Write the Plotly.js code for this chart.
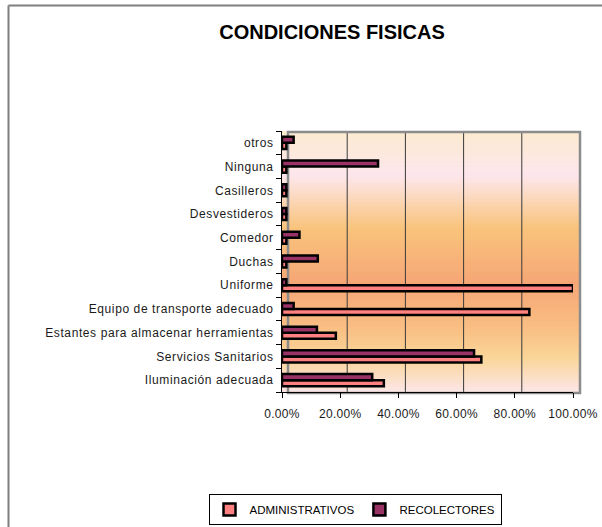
<!DOCTYPE html>
<html>
<head>
<meta charset="utf-8">
<script src="https://cdn.plot.ly/plotly-3.0.1.min.js"></script>
<style>
html,body{margin:0;padding:0;background:#fff;}
#chart{width:602px;height:527px;}
#chart .ytick text{letter-spacing:0.6px;}
#chart .xtick text{letter-spacing:0.3px;}
</style>
</head>
<body>
<div id="chart"></div>
<script>
// ---- data ----
var categories = [
  "Iluminación adecuada",
  "Servicios Sanitarios",
  "Estantes para almacenar herramientas",
  "Equipo de transporte adecuado",
  "Uniforme",
  "Duchas",
  "Comedor",
  "Desvestideros",
  "Casilleros",
  "Ninguna",
  "otros"
];
var administrativos = [0.35, 0.685, 0.185, 0.85, 1.00, 0.015, 0.015, 0.015, 0.015, 0.015, 0.015];
var recolectores    = [0.31, 0.66, 0.12, 0.04, 0.015, 0.123, 0.06, 0.015, 0.015, 0.33, 0.04];
var xTickVals = [0, 0.2, 0.4, 0.6, 0.8, 1.0];
var seriesNames = ["ADMINISTRATIVOS", "RECOLECTORES"];

// ---- layout helpers ----
var W = 602, H = 527;
var M = {l: 282, r: 29, t: 131, b: 135};
var PW = W - M.l - M.r, PH = H - M.t - M.b;
function px(x){ return (x - M.l) / PW; }
function py(y){ return (H - M.b - y) / PH; }

// gradient background (back wall)
var stops = [
  [0.00, [252,235,208]],
  [0.17, [253,230,236]],
  [0.37, [249,196,124]],
  [0.58, [246,166,118]],
  [0.76, [249,192,132]],
  [0.87, [250,214,154]],
  [1.00, [252,230,234]]
];
function colAt(t){
  for (var i=0;i<stops.length-1;i++){
    var a=stops[i], b=stops[i+1];
    if (t>=a[0] && t<=b[0]){
      var f=(t-a[0])/(b[0]-a[0]);
      var c=a[1].map(function(v,k){return Math.round(v+(b[1][k]-v)*f);});
      return 'rgb('+c.join(',')+')';
    }
  }
  return 'rgb('+stops[stops.length-1][1].join(',')+')';
}
var shapes = [];
var topY = 131, botY = 393, N = 87;
for (var i=0;i<N;i++){
  var y0 = topY + (botY-topY)*i/N, y1 = topY + (botY-topY)*(i+1)/N + 0.6;
  shapes.push({type:'rect', xref:'paper', yref:'paper', layer:'below',
    x0:px(282), x1:px(580), y0:py(y1), y1:py(y0),
    fillcolor: colAt((i+0.5)/N), line:{width:0}});
}
// grid lines (shifted back wall)
xTickVals.slice(1, xTickVals.length-1).forEach(function(v){
  shapes.push({type:'line', xref:'x', xsizemode:'pixel', xanchor:v, x0:7, x1:7,
    yref:'paper', y0:py(393), y1:py(132), layer:'below',
    line:{color:'#3a3a3a', width:1}});
});
// back wall frame
shapes.push({type:'rect', xref:'paper', yref:'paper', layer:'below',
  x0:px(288), x1:px(580), y0:py(393), y1:py(132),
  line:{color:'#8c8c8c', width:2.5}, fillcolor:'rgba(0,0,0,0)'});
// outer chart border (left & top)
shapes.push({type:'line', xref:'paper', yref:'paper', x0:px(8.5), x1:px(8.5), y0:py(530), y1:py(5.5),
  line:{color:'#7f7f7f', width:2}});
shapes.push({type:'line', xref:'paper', yref:'paper', x0:px(8.5), x1:px(610), y0:py(5.5), y1:py(5.5),
  line:{color:'#7f7f7f', width:2}});

var traces = [
  {type:'bar', orientation:'h', name:seriesNames[0], y:categories, x:administrativos,
   marker:{color:'#FF8080', line:{color:'#000', width:2.5}}, hoverinfo:'none'},
  {type:'bar', orientation:'h', name:seriesNames[1], y:categories, x:recolectores,
   marker:{color:'#993366', line:{color:'#000', width:2.5}}, hoverinfo:'none'}
];

var fam = '"Liberation Sans", Arial, sans-serif';
var layout = {
  width:W, height:H,
  margin:M,
  paper_bgcolor:'#fff', plot_bgcolor:'rgba(0,0,0,0)',
  font:{family:fam, size:12, color:'#1a1a1a'},
  title:{text:'<b>CONDICIONES FISICAS</b>', x:332/W, xanchor:'center', xref:'container',
         y:1-32/H, yanchor:'middle', yref:'container',
         font:{family:fam, size:20, color:'#000'}},
  barmode:'group', bargap:0.49, bargroupgap:0,
  showlegend:true,
  legend:{orientation:'h', xref:'container', yref:'container',
          x:355/W, xanchor:'center', y:1-494/H, yanchor:'top',
          bordercolor:'#000', borderwidth:1, bgcolor:'#fff',
          font:{family:fam, size:11.5, color:'#000'},
          itemwidth:30, tracegroupgap:0},
  xaxis:{range:[0,1], tickvals:xTickVals, tickformat:'.2%', showgrid:false, zeroline:false,
         showline:true, linecolor:'#000', linewidth:1, ticks:'outside', ticklen:5,
         tickcolor:'#000', fixedrange:true, ticklabelstandoff:6,
         tickfont:{family:fam, size:12, color:'#1a1a1a'}},
  yaxis:{type:'category', categoryorder:'array', categoryarray:categories,
         showgrid:false, zeroline:false, showline:true, linecolor:'#000', linewidth:1,
         ticks:'outside', ticklen:5, tickcolor:'#000', tickson:'boundaries',
         fixedrange:true, ticklabelstandoff:5,
         tickfont:{family:fam, size:12, color:'#1a1a1a'}},
  shapes:shapes
};
Plotly.newPlot('chart', traces, layout, {staticPlot:true, displayModeBar:false});
</script>
</body>
</html>
